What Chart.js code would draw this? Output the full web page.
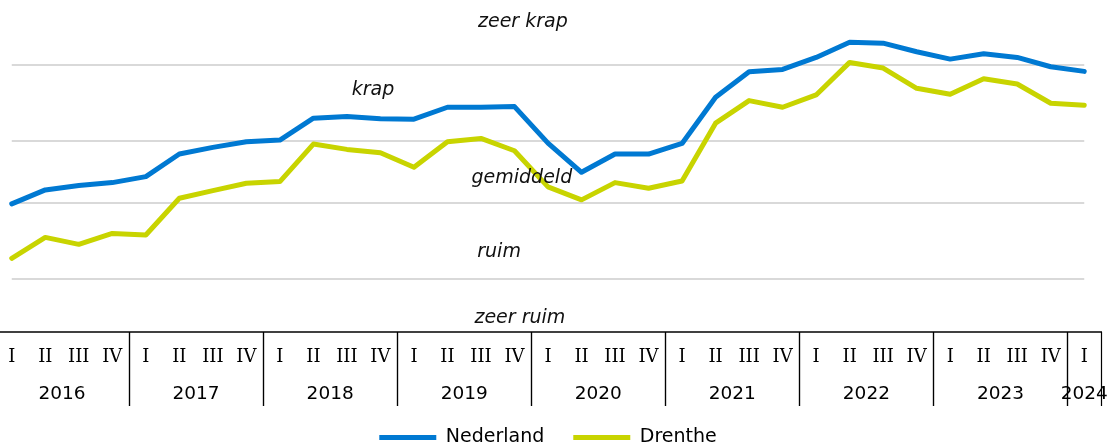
<!DOCTYPE html>
<html>
<head>
<meta charset="utf-8">
<script src="https://cdn.jsdelivr.net/npm/chart.js@4/dist/chart.umd.min.js"></script>
<style>
  html, body { margin: 0; padding: 0; background: #fff; overflow: hidden; }
  #wrap { position: relative; width: 1109px; height: 445px; overflow: hidden; }
  #chart { position: absolute; left: -5px; top: 0; }
</style>
</head>
<body>
<div id="wrap"><canvas id="chart" width="1118" height="457"></canvas></div>
<script>
// quarters 2016-I .. 2024-I
const years = [2016, 2017, 2018, 2019, 2020, 2021, 2022, 2023, 2024];
const quarterNames = ['I', 'II', 'III', 'IV'];

const nederland = [
  38.6, 42.8, 44.1, 45.0,
  46.8, 53.6, 55.6, 57.3,
  57.8, 64.4, 64.9, 64.2,
  64.1, 67.7, 67.7, 67.9,
  56.9, 48.1, 53.6, 53.6,
  56.8, 70.7, 78.4, 79.1,
  82.7, 87.3, 87.0, 84.4,
  82.2, 83.8, 82.7, 79.9,
  78.5
];
const drenthe = [
  22.2, 28.5, 26.4, 29.7,
  29.2, 40.3, 42.6, 44.8,
  45.3, 56.6, 55.0, 54.0,
  49.6, 57.3, 58.3, 54.6,
  43.7, 39.8, 45.0, 43.3,
  45.5, 62.9, 69.7, 67.7,
  71.4, 81.2, 79.5, 73.4,
  71.6, 76.3, 74.7, 68.9,
  68.3
];

// class boundaries (gridlines) and class names
const boundaries = [16.0, 38.9, 57.5, 80.4];
const bandLabels = ['zeer krap', 'krap', 'gemiddeld', 'ruim', 'zeer ruim'];
// where each class name sits: [quarter index, value]
const bandLabelAt = [[15.25, 93.4], [10.78, 72.9], [15.22, 46.4], [14.54, 24.1], [15.16, 4.2]];

const labels = [];
years.forEach(y => quarterNames.forEach(q => {
  if (labels.length < nederland.length) labels.push({ q, y });
}));

const SANS = '"DejaVu Sans", Verdana, sans-serif';
const SERIF = '"DejaVu Serif", serif';

const spanningPlugin = {
  id: 'spanning',
  beforeDatasetsDraw(chart) {
    const { ctx, scales: { x, y } } = chart;
    const x0 = x.getPixelForValue(0);
    const x1 = x.getPixelForValue(labels.length - 1);
    ctx.save();
    ctx.strokeStyle = '#d9d9d9';
    ctx.lineWidth = 2;
    boundaries.forEach(b => {
      const py = Math.round(y.getPixelForValue(b));
      ctx.beginPath();
      ctx.moveTo(x0, py);
      ctx.lineTo(x1, py);
      ctx.stroke();
    });
    ctx.restore();
  },
  afterDatasetsDraw(chart) {
    const { ctx, scales: { x, y } } = chart;
    ctx.save();
    ctx.font = 'italic 19px ' + SANS;
    ctx.fillStyle = '#111';
    ctx.textAlign = 'center';
    ctx.textBaseline = 'middle';
    bandLabels.forEach((t, i) => {
      const [qi, v] = bandLabelAt[i];
      ctx.fillText(t, x.getPixelForValue(qi), y.getPixelForValue(v));
    });
    ctx.restore();
  },
  afterDraw(chart) {
    const { ctx, chartArea, scales: { x } } = chart;
    const bottom = chartArea.bottom;
    ctx.save();
    ctx.strokeStyle = '#000';
    ctx.lineWidth = 1.5;
    // axis line
    ctx.beginPath();
    ctx.moveTo(chartArea.left, bottom);
    ctx.lineTo(chartArea.right + 1, bottom);
    ctx.stroke();
    // year separators
    ctx.lineWidth = 1.2;
    let start = 0;
    const groups = [];
    years.forEach(yr => {
      const n = labels.filter(l => l.y === yr).length;
      if (n) { groups.push({ yr, start, n }); start += n; }
    });
    groups.forEach(g => {
      [g.start, g.start + g.n].forEach(e => {
        const px = Math.round(x.getPixelForValue(e - 0.5)) + 0.5;
        ctx.beginPath();
        ctx.moveTo(px, bottom);
        ctx.lineTo(px, bottom + 74);
        ctx.stroke();
      });
    });
    // quarter labels
    ctx.fillStyle = '#000';
    ctx.textAlign = 'center';
    ctx.textBaseline = 'middle';
    ctx.font = '18px ' + SERIF;
    labels.forEach((l, i) => ctx.fillText(l.q, x.getPixelForValue(i), bottom + 25));
    // year labels
    ctx.font = '18.5px ' + SANS;
    groups.forEach(g => {
      ctx.fillText(String(g.yr), x.getPixelForValue(g.start + (g.n - 1) / 2), bottom + 62);
    });
    ctx.restore();
  }
};

const lineStyle = (color) => ({
  borderColor: color,
  backgroundColor: color,
  borderWidth: 5,
  borderCapStyle: 'round',
  borderJoinStyle: 'round',
  pointRadius: 0,
  pointHoverRadius: 0,
  tension: 0,
  fill: false
});

new Chart(document.getElementById('chart'), {
  type: 'line',
  data: {
    labels: labels.map(l => l.q + ' ' + l.y),
    datasets: [
      { label: 'Nederland', data: nederland, ...lineStyle('#0079d2') },
      { label: 'Drenthe', data: drenthe, ...lineStyle('#c8d400') }
    ]
  },
  options: {
    responsive: false,
    animation: false,
    layout: { padding: { left: 0, right: 12, top: 0, bottom: 0 } },
    scales: {
      x: {
        offset: true,
        grid: { display: false },
        border: { display: false },
        ticks: { display: false },
        afterFit: (scale) => { scale.height = 67; }
      },
      y: {
        display: false,
        min: 0,
        max: 100
      }
    },
    plugins: {
      legend: {
        position: 'bottom',
        labels: {
          usePointStyle: true,
          pointStyle: 'line',
          pointStyleWidth: 57,
          padding: 29,
          color: '#000',
          font: { family: SANS, size: 19 }
        }
      },
      tooltip: { enabled: false }
    }
  },
  plugins: [spanningPlugin]
});
</script>
</body>
</html>
